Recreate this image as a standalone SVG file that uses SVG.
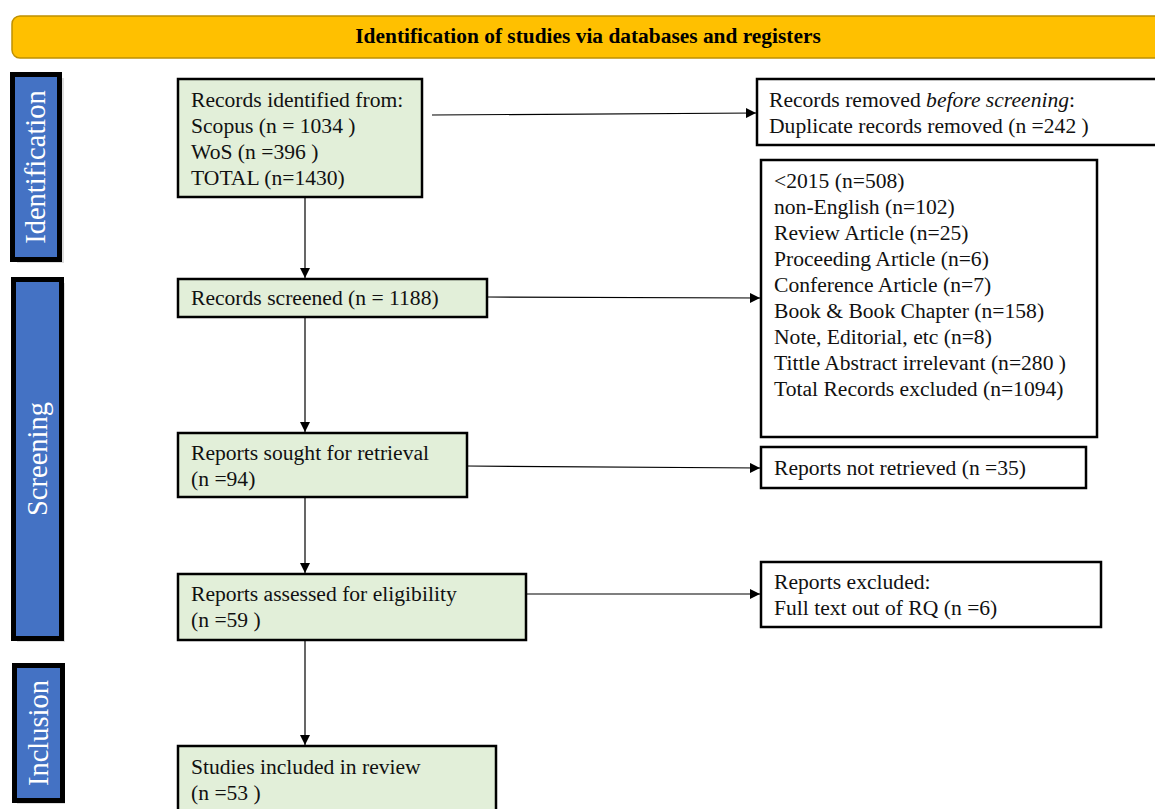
<svg xmlns="http://www.w3.org/2000/svg" width="1155" height="809" viewBox="0 0 1155 809">
<defs>
<style>
.t{font-family:"Liberation Serif","Times New Roman",serif;font-size:21.6px;fill:#111}
.h{font-family:"Liberation Serif","Times New Roman",serif;font-size:21.4px;font-weight:bold;fill:#000}
.side{font-family:"Liberation Serif","Times New Roman",serif;font-size:28.5px;fill:#fff}
.g{fill:#E2EFD9;stroke:#000;stroke-width:2.5}
.w{fill:#fff;stroke:#000;stroke-width:2.5}
.bar{fill:#4472C4;stroke:#000;stroke-width:5}
.c{stroke:#000;stroke-width:1.2;fill:none;marker-end:url(#ah)}
</style>
<marker id="ah" viewBox="0 0 10 10" refX="10" refY="5" markerWidth="10" markerHeight="10" markerUnits="userSpaceOnUse" orient="auto">
<path d="M0,0 L10,5 L0,10 z" fill="#000"/>
</marker>
</defs>
<rect width="1155" height="809" fill="#fff"/>

<g id="header">
<rect x="12" y="16" width="1160" height="42" rx="8" fill="#FFC000" stroke="#BF9000" stroke-width="1.5"/>
<text class="h" x="588" y="43" text-anchor="middle">Identification of studies via databases and registers</text>
</g>

<g id="side-identification">
<rect x="14" y="75" width="47" height="185" fill="#bbb" opacity="0.5" transform="translate(3,3)"/>
<rect class="bar" x="12.5" y="74.5" width="47" height="185"/>
<text class="side" transform="translate(45,167) rotate(-90)" text-anchor="middle">Identification</text>
</g>
<g id="side-screening">
<rect x="14" y="280" width="48" height="359" fill="#bbb" opacity="0.5" transform="translate(3,3)"/>
<rect class="bar" x="13.5" y="279.5" width="48" height="359"/>
<text class="side" transform="translate(47,459) rotate(-90)" text-anchor="middle">Screening</text>
</g>
<g id="side-inclusion">
<rect x="14" y="666" width="48" height="135" fill="#bbb" opacity="0.5" transform="translate(3,3)"/>
<rect class="bar" x="14.5" y="665.5" width="48" height="135"/>
<text class="side" transform="translate(48,733) rotate(-90)" text-anchor="middle">Inclusion</text>
</g>

<g id="connectors">
<line class="c" x1="432" y1="115" x2="756" y2="113"/>
<line class="c" x1="305" y1="198" x2="305" y2="278"/>
<line class="c" x1="487" y1="297" x2="760" y2="298"/>
<line class="c" x1="305" y1="317" x2="305" y2="432"/>
<line class="c" x1="467" y1="466" x2="760" y2="468"/>
<line class="c" x1="305" y1="497" x2="305" y2="573"/>
<line class="c" x1="526" y1="594" x2="760" y2="594"/>
<line class="c" x1="305" y1="640" x2="305" y2="745"/>
</g>

<g id="n-identified">
<rect class="g" x="178" y="79" width="244" height="118"/>
<text class="t" x="191" y="107">Records identified from:</text>
<text class="t" x="191" y="133">Scopus (n = 1034  )</text>
<text class="t" x="191" y="159">WoS (n =396 )</text>
<text class="t" x="191" y="185">TOTAL (n=1430)</text>
</g>

<g id="n-screened">
<rect class="g" x="178" y="279" width="309" height="38"/>
<text class="t" x="191" y="305">Records screened (n = 1188)</text>
</g>

<g id="n-sought">
<rect class="g" x="178" y="433" width="289" height="64"/>
<text class="t" x="191" y="460">Reports sought for retrieval</text>
<text class="t" x="191" y="486">(n =94)</text>
</g>

<g id="n-assessed">
<rect class="g" x="178" y="574" width="348" height="66"/>
<text class="t" x="191" y="601">Reports assessed for eligibility</text>
<text class="t" x="191" y="627">(n =59 )</text>
</g>

<g id="n-included">
<rect class="g" x="178" y="746" width="318" height="70"/>
<text class="t" x="191" y="774">Studies included in review</text>
<text class="t" x="191" y="800">(n =53 )</text>
</g>

<g id="n-removed">
<rect class="w" x="757" y="79" width="410" height="66"/>
<text class="t" x="769" y="107">Records removed <tspan font-style="italic">before screening</tspan>:</text>
<text class="t" x="769" y="133">Duplicate records removed  (n =242  )</text>
</g>

<g id="n-excluded-list">
<rect class="w" x="761" y="160" width="336" height="277"/>
<text class="t" x="774" y="188">&lt;2015 (n=508)</text>
<text class="t" x="774" y="214">non-English (n=102)</text>
<text class="t" x="774" y="240">Review Article (n=25)</text>
<text class="t" x="774" y="266">Proceeding Article (n=6)</text>
<text class="t" x="774" y="292">Conference Article (n=7)</text>
<text class="t" x="774" y="318">Book &amp; Book Chapter (n=158)</text>
<text class="t" x="774" y="344">Note, Editorial, etc (n=8)</text>
<text class="t" x="774" y="370">Tittle Abstract irrelevant (n=280 )</text>
<text class="t" x="774" y="396">Total Records excluded (n=1094)</text>
</g>

<g id="n-not-retrieved">
<rect class="w" x="761" y="447" width="325" height="41"/>
<text class="t" x="774" y="475">Reports not retrieved (n =35)</text>
</g>

<g id="n-reports-excluded">
<rect class="w" x="761" y="562" width="340" height="65"/>
<text class="t" x="774" y="589">Reports excluded:</text>
<text class="t" x="774" y="615">Full text out of RQ (n =6)</text>
</g>
</svg>
